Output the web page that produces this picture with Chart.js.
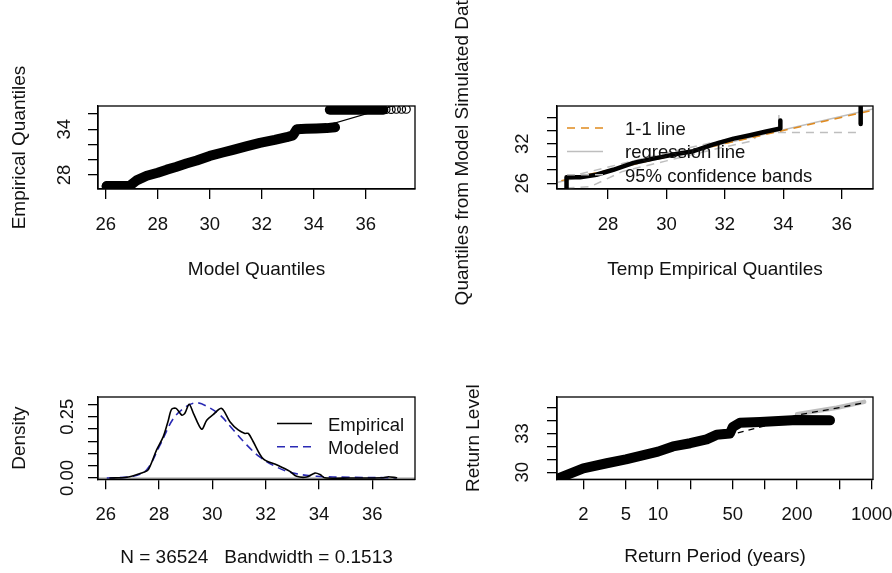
<!DOCTYPE html>
<html>
<head>
<meta charset="utf-8">
<script src="https://cdn.jsdelivr.net/npm/chart.js@4/dist/chart.umd.min.js"></script>
<style>
  html, body { margin: 0; padding: 0; background: #fff; }
  #fig { position: relative; width: 892px; height: 573px; overflow: hidden; }
  #fig canvas { position: absolute; }
</style>
</head>
<body>
<div id="fig">
  <canvas id="qqModel"></canvas>
  <canvas id="qqSim"></canvas>
  <canvas id="density"></canvas>
  <canvas id="returnLevel"></canvas>
</div>
<script>
// ---- panel 1: model quantiles vs empirical quantiles ----
const qqModel     = [26.04, 26.30, 26.60, 26.93, 27.19, 27.58, 28.00, 28.35, 28.70, 29.10, 29.50, 30.00,
                     30.50, 30.90, 31.40, 31.93, 32.50, 32.96, 33.20, 33.35, 33.70, 34.10, 34.50, 34.82];
const qqEmpirical = [26.55, 26.55, 26.55, 26.60, 27.30, 27.90, 28.30, 28.70, 29.05, 29.50, 29.90, 30.50,
                     30.95, 31.30, 31.75, 32.20, 32.60, 32.96, 33.20, 34.00, 34.05, 34.10, 34.15, 34.25];
const qqModelTop     = [34.62, 35.00, 35.50, 36.00, 36.40, 36.68];
const qqEmpiricalTop = [36.55, 36.55, 36.55, 36.55, 36.55, 36.55];
const qqModelOpen     = [26.02, 36.78, 36.98, 37.18, 37.38, 37.56];
const qqEmpiricalOpen = [26.52, 36.60, 36.60, 36.62, 36.62, 36.62];
const oneToOne = [25, 38];
const qqXTicks = [26, 28, 30, 32, 34, 36];
const qqXLabels = ['26', '28', '30', '32', '34', '36'];
const qqYTicks = [28, 30, 32, 34, 36];
const qqYLabels = ['28', '', '', '34', ''];

// ---- panel 2: empirical quantiles vs quantiles of simulated data ----
const simEmpirical = [26.58, 26.58, 27.04, 27.60, 28.18, 28.87, 29.55, 30.24, 30.92, 31.61, 32.30, 32.86,
                      33.38, 33.90, 33.90, null, 36.65, 36.65];
const simModel     = [25.20, 26.90, 26.90, 27.30, 28.05, 29.10, 29.74, 30.35, 30.86, 31.90, 32.77, 33.28,
                      33.80, 34.30, 35.50, null, 35.00, 37.80];
const regEmpirical = [26.25, 37.07];
const regModel     = [26.10, 37.25];
const ciLowerX = [26.58, 27.40, 28.50, 30.00, 31.50, 33.00, 33.10, 36.65];
const ciLower  = [25.30, 25.50, 27.80, 29.40, 31.00, 32.50, 33.70, 33.70];
const ciUpperX = [26.58, 27.40, 28.50, 30.00, 31.50, 33.00, 33.85, 33.85];
const ciUpper  = [26.90, 27.80, 29.00, 30.60, 32.10, 33.50, 34.20, 36.50];
const simXTicks = [28, 30, 32, 34, 36];
const simXLabels = ['28', '30', '32', '34', '36'];
const simYTicks = [26, 28, 30, 32, 34, 36];
const simYLabels = ['26', '', '', '32', '', ''];

// ---- panel 3: density, empirical vs modeled ----
const densEmpX = [26.16, 26.79, 27.41, 27.60, 27.91, 28.16, 28.35, 28.47, 28.64, 28.85, 28.97, 29.13,
                  29.29, 29.60, 29.79, 30.03, 30.35, 30.66, 30.97, 31.22, 31.35, 31.53, 31.91, 32.41,
                  32.91, 33.16, 33.54, 33.85, 34.04, 34.22, 35.16, 36.41, 36.60, 36.91];
const densEmpY = [0.000, 0.003, 0.023, 0.034, 0.115, 0.169, 0.236, 0.280, 0.284, 0.257, 0.264, 0.301,
                  0.264, 0.199, 0.236, 0.259, 0.284, 0.230, 0.196, 0.182, 0.182, 0.149, 0.078, 0.054,
                  0.027, 0.007, 0.004, 0.020, 0.014, 0.001, 0.000, 0.001, 0.005, 0.001];
const densModX = [26.04, 27.03, 27.54, 28.04, 28.54, 29.04, 29.41, 29.79, 30.29, 30.79, 31.29, 31.79,
                  32.41, 33.04, 33.91, 35.16, 36.91];
const densModY = [0.000, 0.007, 0.034, 0.135, 0.243, 0.293, 0.307, 0.293, 0.257, 0.196, 0.135, 0.085,
                  0.045, 0.020, 0.007, 0.003, 0.001];
const densZeroX = [25, 38];
const densXTicks = [26, 28, 30, 32, 34, 36];
const densXLabels = ['26', '28', '30', '32', '34', '36'];
const densYTicks = [0, 0.05, 0.10, 0.15, 0.20, 0.25, 0.30];
const densYLabels = ['0.00', '', '', '', '', '0.25', ''];

// ---- panel 4: return level plot ----
const rlPeriod = [1.17, 2.0, 3.31, 5.0, 10.0, 13.8, 20.0, 28.5, 35.3, 47.1, 50.1, 58.5, 90.0, 200, 407];
const rlLevel  = [29.54, 30.31, 30.70, 31.00, 31.60, 32.00, 32.25, 32.55, 32.90, 33.00, 33.50, 33.84,
                  33.90, 34.05, 34.02];
const rlFitPeriod = [1.13, 2, 5, 10, 20, 50, 100, 200, 500, 850];
const rlFitLevel  = [29.50, 30.30, 31.05, 31.65, 32.20, 32.95, 33.60, 34.43, 35.00, 35.39];
const rlCiPeriod = [200, 470, 850];
const rlCiLevel  = [34.50, 35.00, 35.45];
const rlXTicks = [2, 5, 10, 20, 50, 100, 200, 500, 1000];
const rlXLabels = ['2', '5', '10', '', '50', '', '200', '', '1000'];
const rlYTicks = [30, 31, 32, 33, 34, 35];
const rlYLabels = ['30', '', '', '33', '', ''];

const FONT = "'Liberation Sans', Arial, sans-serif";
Chart.defaults.font.family = FONT;
Chart.defaults.font.size = 18.5;
Chart.defaults.color = '#111';
Chart.defaults.animation = false;

const pts = (xs, ys) => xs.map((x, i) => ({ x: x, y: ys[i] }));

// R-style box around the plot region
const frame = {
  id: 'frame',
  afterDatasetsDraw(chart) {
    const { ctx, chartArea: a } = chart;
    ctx.save();
    ctx.strokeStyle = '#000';
    ctx.lineWidth = 1.3;
    ctx.strokeRect(a.left, a.top, a.right - a.left, a.bottom - a.top);
    ctx.restore();
  }
};

// borderless legend placed inside the plot region, like R's legend(bty = "n")
const boxLegend = {
  id: 'boxLegend',
  afterDatasetsDraw(chart, args, opts) {
    if (!opts.items) return;
    const { ctx, chartArea: a } = chart;
    ctx.save();
    ctx.font = opts.size + 'px ' + FONT;
    ctx.textBaseline = 'middle';
    opts.items.forEach((idx, i) => {
      const ds = chart.data.datasets[idx];
      const y = a.top + opts.top + i * opts.row;
      ctx.strokeStyle = ds.borderColor;
      ctx.lineWidth = 1.5;
      ctx.setLineDash(ds.borderDash || []);
      ctx.beginPath();
      ctx.moveTo(a.left + opts.left, y - 2);
      ctx.lineTo(a.left + opts.left + opts.len, y - 2);
      ctx.stroke();
      ctx.setLineDash([]);
      ctx.fillStyle = '#111';
      ctx.fillText(ds.label, a.left + opts.textLeft, y);
    });
    ctx.restore();
  }
};

function xAxis(geo, min, max, ticks, labels, title, type) {
  return {
    type: type || 'linear', position: 'bottom', min: min, max: max,
    afterBuildTicks: s => { s.ticks = ticks.map(v => ({ value: v })); },
    afterFit: s => { s.height = geo.h - geo.bottom; s.paddingLeft = 0; s.paddingRight = 0; },
    grid: { drawOnChartArea: false, drawTicks: true, tickLength: 10, color: '#000', lineWidth: 1.3 },
    border: { display: true, color: '#000', width: 1.3 },
    ticks: { autoSkip: false, maxRotation: 0, padding: 15, callback: (v, i) => labels[i] },
    title: { display: true, text: title, font: { size: 19 }, padding: { top: 0, bottom: geo.h - geo.xTitle - 11.4 } }
  };
}

function yAxis(geo, min, max, ticks, labels, title, labelPad) {
  return {
    type: 'linear', position: 'left', min: min, max: max,
    afterBuildTicks: s => { s.ticks = ticks.map(v => ({ value: v })); },
    afterFit: s => { s.width = geo.left; s.paddingTop = 0; s.paddingBottom = 0; },
    grid: { drawOnChartArea: false, drawTicks: true, tickLength: 10, color: '#000', lineWidth: 1.3 },
    border: { display: true, color: '#000', width: 1.3 },
    ticks: { autoSkip: false, minRotation: 90, maxRotation: 90, crossAlign: 'center', padding: labelPad,
             callback: (v, i) => labels[i] },
    title: { display: true, text: title, font: { size: 19 }, padding: { top: geo.yTitle - 11.4, bottom: 0 } }
  };
}

function makePanel(id, geo, datasets, scales, legend) {
  const canvas = document.getElementById(id);
  canvas.width = geo.w;
  canvas.height = geo.h;
  canvas.style.left = geo.x + 'px';
  canvas.style.top = geo.y + 'px';
  canvas.style.width = geo.w + 'px';
  canvas.style.height = geo.h + 'px';
  return new Chart(canvas.getContext('2d'), {
    type: 'scatter',
    data: { datasets: datasets },
    options: {
      responsive: false,
      devicePixelRatio: 1,
      layout: { padding: { left: 0, top: geo.top, right: geo.w - geo.right, bottom: 0 } },
      scales: scales,
      plugins: { legend: { display: false }, tooltip: { enabled: false }, boxLegend: legend || {} }
    },
    plugins: [frame, boxLegend]
  });
}

const line = (data, color, width, extra) => Object.assign({
  data: data, showLine: true, pointRadius: 0, borderColor: color, borderWidth: width,
  borderCapStyle: 'round', borderJoinStyle: 'round', clip: 0
}, extra || {});

// panel 1
const g1 = { x: 0, y: 0, w: 446, h: 300, left: 98, right: 415, top: 106, bottom: 189, xTitle: 270, yTitle: 20 };
makePanel('qqModel', g1, [
  line(pts(qqModel, qqEmpirical), '#000', 10),
  line(pts(qqModelTop, qqEmpiricalTop), '#000', 10),
  { data: pts(qqModelOpen, qqEmpiricalOpen), pointRadius: 4, pointBorderWidth: 1.2,
    pointBorderColor: '#000', pointBackgroundColor: 'rgba(0,0,0,0)', clip: 0 },
  line(pts(oneToOne, oneToOne), '#000', 1.2)
], {
  x: xAxis(g1, 25.704, 37.896, qqXTicks, qqXLabels, 'Model Quantiles'),
  y: yAxis(g1, 26.164, 37.049, qqYTicks, qqYLabels, 'Empirical Quantiles', 12.5)
});

// panel 2
const g2 = { x: 446, y: 0, w: 446, h: 320, left: 111, right: 427, top: 106, bottom: 189, xTitle: 270, yTitle: 17 };
makePanel('qqSim', g2, [
  line(pts(simEmpirical, simModel), '#000', 4.5, { label: 'points' }),
  line(pts(oneToOne, oneToOne), '#e08a1e', 1.5, { label: '1-1 line', borderDash: [8, 6], borderCapStyle: 'butt' }),
  line(pts(regEmpirical, regModel), '#bebebe', 1.5, { label: 'regression line' }),
  line(pts(ciLowerX, ciLower), '#bebebe', 1.5, { label: '95% confidence bands', borderDash: [8, 6], borderCapStyle: 'butt' }),
  line(pts(ciUpperX, ciUpper), '#bebebe', 1.5, { label: 'upper band', borderDash: [8, 6], borderCapStyle: 'butt' })
], {
  x: xAxis(g2, 26.254, 37.072, simXTicks, simXLabels, 'Temp Empirical Quantiles'),
  y: yAxis(g2, 25.136, 37.712, simYTicks, simYLabels, 'Quantiles from Model Simulated Data', 13.5)
}, { items: [1, 2, 3], left: 10, len: 36, textLeft: 68, top: 24, row: 23.4, size: 18.5 });

// panel 3
const g3 = { x: 0, y: 290, w: 446, h: 283, left: 98, right: 415, top: 107, bottom: 189.3, xTitle: 268, yTitle: 19.5 };
makePanel('density', g3, [
  line(pts(densEmpX, densEmpY), '#000', 1.6, { label: 'Empirical', tension: 0.3 }),
  line(pts(densModX, densModY), '#2a2ab4', 1.6, { label: 'Modeled', borderDash: [8, 5], borderCapStyle: 'butt', tension: 0.35 }),
  line(pts(densZeroX, [0, 0]), '#bebebe', 1.3)
], {
  x: xAxis(g3, 25.711, 37.602, densXTicks, densXLabels, 'N = 36524   Bandwidth = 0.1513'),
  y: yAxis(g3, -0.0053, 0.3306, densYTicks, densYLabels, 'Density', 2)
}, { items: [0, 1], left: 179, len: 35, textLeft: 230, top: 28.5, row: 23.3, size: 18.5 });

// panel 4
const g4 = { x: 446, y: 290, w: 446, h: 283, left: 111, right: 427, top: 107, bottom: 189.3, xTitle: 267, yTitle: 28 };
makePanel('returnLevel', g4, [
  line(pts(rlPeriod, rlLevel), '#000', 10),
  line(pts(rlFitPeriod, rlFitLevel), '#000', 1.3, { borderDash: [6, 5], borderCapStyle: 'butt' }),
  line(pts(rlCiPeriod, rlCiLevel), '#bebebe', 4.5)
], {
  x: xAxis(g4, 1.1347, 1028.5, rlXTicks, rlXLabels, 'Return Period (years)', 'logarithmic'),
  y: yAxis(g4, 29.458, 35.828, rlYTicks, rlYLabels, 'Return Level', 13.5)
});
</script>
</body>
</html>
